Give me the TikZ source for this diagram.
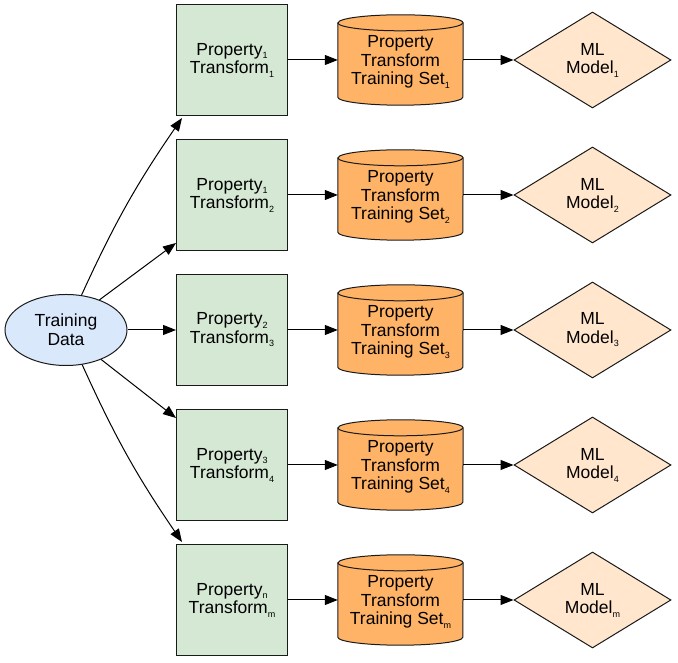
\documentclass[tikz,border=0pt]{standalone}
\usepackage{fontspec}
\setmainfont{Liberation Sans}
\usetikzlibrary{shapes.geometric,arrows.meta,calc}
\newcommand\lsub[1]{\raisebox{-3.5pt}{\fontsize{9}{9}\selectfont #1}}
\definecolor{gfill}{HTML}{D5E8D4}
\definecolor{ofill}{HTML}{FFB366}
\definecolor{dfill}{HTML}{FFE6CC}
\definecolor{efill}{HTML}{DAE8FC}
\definecolor{edge}{HTML}{1A1A1A}
\tikzset{
  txt/.style={font=\fontsize{17.5}{18.5}\selectfont, align=center, text=black},
  tbox/.style={txt, draw=edge, line width=1pt, fill=gfill, minimum width=111pt, minimum height=111pt, inner sep=0pt},
  cylnode/.style={txt, minimum width=125pt, minimum height=90pt, inner sep=0pt},
  model/.style={txt, diamond, draw=edge, line width=1pt, fill=dfill, aspect=1.65, minimum width=157pt, minimum height=96pt, inner sep=0pt},
  data/.style={txt, ellipse, draw=edge, line width=1pt, fill=efill, minimum width=122pt, minimum height=71pt, inner sep=0pt},
  conn/.style={draw=black, line width=1pt, -{Triangle[length=13pt,width=10pt]}},
  cylline/.style={draw=edge, line width=1pt}
}
\begin{document}
\begin{tikzpicture}[x=1pt,y=1pt]
\useasboundingbox (0,0) rectangle (678,663);
\node[data] (td) at (66,333) {Training\\Data};
\foreach \i/\y/\p/\t in {1/603/1/1, 2/468/1/2, 3/333/2/3, 4/198/3/4, 5/63/n/m}{
  \node[tbox] (b\i) at (232,\y) {Property\lsub{\p}\\Transform\lsub{\t}};
  \node[cylnode] (c\i) at (400.5,\y) {};
  \path[cylline, fill=ofill] ([yshift=-8pt]c\i.north west) -- ([yshift=8pt]c\i.south west)
     arc[start angle=180, end angle=360, x radius=62.5pt, y radius=8pt]
     -- ([yshift=-8pt]c\i.north east)
     arc[start angle=0, end angle=180, x radius=62.5pt, y radius=8pt] -- cycle;
  \path[cylline] ([yshift=-8pt]c\i.north west)
     arc[start angle=180, end angle=360, x radius=62.5pt, y radius=8pt];
  \node[txt] at ([yshift=-2pt]c\i.center) {Property\\Transform\\Training Set\lsub{\t}};
  \node[model] (m\i) at (592.5,\y) {ML\\Model\lsub{\t}};
  \draw[conn] (b\i.east) -- (c\i.west);
  \draw[conn] (c\i.east) -- (m\i.west);
}
\draw[conn] (td.66) to[bend left=5] ($(b1.south west)+(6pt,-2pt)$);
\draw[conn] (td.42) -- ($(b2.south west)+(0pt,8pt)$);
\draw[conn] (td.east) -- (b3.west);
\draw[conn] (td.-40) -- ($(b4.north west)+(0pt,-9pt)$);
\draw[conn] (td.-65) to[bend right=5] ($(b5.north west)+(6pt,2pt)$);
\end{tikzpicture}
\end{document}
